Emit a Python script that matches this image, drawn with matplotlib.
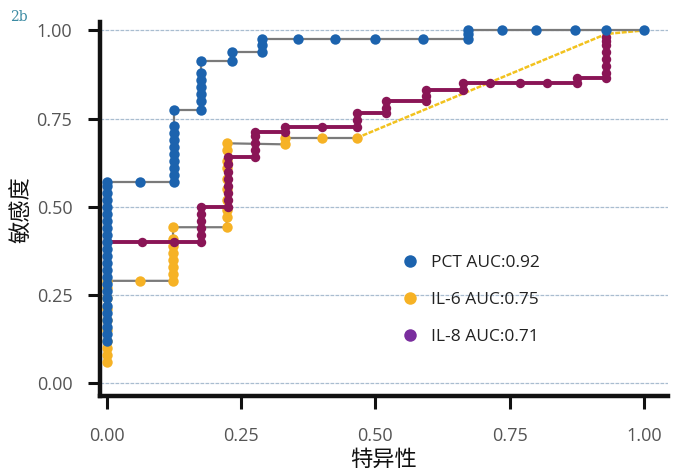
import matplotlib.pyplot as plt
from matplotlib.lines import Line2D

plt.rcParams["font.family"] = ["Open Sans", "Noto Sans CJK SC", "DejaVu Sans"]

# ROC points (1 - specificity, sensitivity)
PCT_FPR = [0.0] * 24 + [0.062, 0.125] + [0.125] * 9 + [0.175] * 7 + [0.232, 0.232, 0.288, 0.288, 0.288,
           0.356, 0.425, 0.499, 0.588, 0.672, 0.672, 0.672, 0.735, 0.80, 0.872, 0.93, 1.0]
PCT_TPR = [0.12, 0.14, 0.16, 0.18, 0.20, 0.22, 0.24, 0.26, 0.28, 0.30, 0.32, 0.34, 0.36, 0.38, 0.40,
           0.42, 0.44, 0.46, 0.48, 0.50, 0.52, 0.54, 0.56, 0.57,
           0.57, 0.57,
           0.59, 0.61, 0.63, 0.65, 0.67, 0.69, 0.71, 0.73, 0.775,
           0.775, 0.80, 0.82, 0.84, 0.86, 0.88, 0.912,
           0.912, 0.938, 0.938, 0.96, 0.977,
           0.977, 0.977, 0.977, 0.977, 0.977, 0.99, 1.0, 1.0, 1.0, 1.0, 1.0, 1.0]

IL6_FPR = [0.0] * 10 + [0.062, 0.123, 0.123, 0.123, 0.123, 0.123, 0.123, 0.123, 0.123,
           0.223, 0.223, 0.223, 0.223, 0.223, 0.223, 0.223, 0.223, 0.223, 0.223,
           0.331, 0.331, 0.40, 0.465]
IL6_TPR = [0.06, 0.08, 0.10, 0.12, 0.15, 0.18, 0.21, 0.24, 0.27, 0.29,
           0.29, 0.29, 0.31, 0.33, 0.35, 0.37, 0.39, 0.41, 0.442,
           0.442, 0.47, 0.49, 0.52, 0.55, 0.58, 0.61, 0.63, 0.66, 0.68,
           0.677, 0.695, 0.695, 0.695]
# the rest of the IL-6 curve is a single straight segment
IL6_TAIL_FPR = [0.465, 0.93, 1.0]
IL6_TAIL_TPR = [0.695, 0.99, 1.0]

IL8_FPR = [0.0, 0.065, 0.125, 0.175, 0.175, 0.175, 0.175, 0.175, 0.175,
           0.225, 0.225, 0.225, 0.225, 0.225, 0.225, 0.225, 0.225,
           0.276, 0.276, 0.276, 0.276, 0.276, 0.331, 0.331, 0.40,
           0.465, 0.465, 0.465, 0.52, 0.52, 0.52, 0.595, 0.595, 0.595, 0.663, 0.663,
           0.713, 0.77, 0.82, 0.875, 0.875, 0.93, 0.93, 0.93, 0.93, 0.93, 0.93, 0.93, 0.93]
IL8_TPR = [0.40, 0.40, 0.40, 0.40, 0.42, 0.44, 0.46, 0.48, 0.50,
           0.50, 0.52, 0.54, 0.56, 0.58, 0.60, 0.62, 0.64,
           0.64, 0.66, 0.68, 0.70, 0.711, 0.711, 0.727, 0.727,
           0.727, 0.745, 0.765, 0.765, 0.78, 0.80, 0.80, 0.815, 0.83, 0.83, 0.85,
           0.85, 0.85, 0.85, 0.85, 0.864, 0.864, 0.88, 0.90, 0.92, 0.94, 0.96, 0.97, 0.98]

LEGEND_LABELS = ["PCT AUC:0.92", "IL-6 AUC:0.75", "IL-8 AUC:0.71"]
TICKS = [0.0, 0.25, 0.5, 0.75, 1.0]

BLUE = "#1C63AE"
ORANGE = "#F6B225"
MAROON = "#8A1556"
PURPLE = "#7A2E9E"
GREY = "#7A7A7A"

fig = plt.figure(figsize=(6.76, 4.75), dpi=100)
ax = fig.add_axes([0.148, 0.166, 0.840, 0.787])

for y in TICKS:
    ax.axhline(y, color="#A9BDD0", lw=0.9, ls=(0, (3, 1)), zorder=0)

# IL-6 (drawn first, lies underneath)
ax.plot(IL6_FPR, IL6_TPR, color=GREY, lw=1.6, zorder=2)
ax.plot(IL6_TAIL_FPR, IL6_TAIL_TPR, color="#F2C21E", lw=1.8, ls=(0, (2, 0.6)), zorder=2)
ax.plot(IL6_FPR, IL6_TPR, "o", color=ORANGE, ms=7.5, mec="none", zorder=3)

# IL-8
ax.plot(IL8_FPR, IL8_TPR, color=MAROON, lw=2.8, zorder=4)
ax.plot(IL8_FPR, IL8_TPR, "o", color=MAROON, ms=6.8, mec="none", zorder=4)

# PCT
ax.plot(PCT_FPR, PCT_TPR, color=GREY, lw=1.6, zorder=5)
ax.plot(PCT_FPR, PCT_TPR, "o", color=BLUE, ms=7.5, mec="none", zorder=6)

ax.set_xlim(-0.013, 1.045)
ax.set_ylim(-0.037, 1.023)
ax.set_xticks(TICKS)
ax.set_yticks(TICKS)
ax.set_xticklabels([f"{t:.2f}" for t in TICKS])
ax.set_yticklabels([f"{t:.2f}" for t in TICKS])
ax.tick_params(axis="both", length=9, width=2.2, colors="#111111", labelcolor="#555555",
               labelsize=13)
ax.tick_params(axis="x", pad=13)
ax.tick_params(axis="y", pad=11)

for side in ("top", "right"):
    ax.spines[side].set_visible(False)
for side in ("left", "bottom"):
    ax.spines[side].set_linewidth(3.2)
    ax.spines[side].set_color("#111111")

ax.set_xlabel("特异性", fontsize=16, color="#111111", labelpad=4)
ax.set_ylabel("敏感度", fontsize=16, color="#111111", labelpad=2)

fig.text(0.015, 0.955, "2b", fontsize=10, color="#3C8BA3", family="DejaVu Serif")

handles = [Line2D([], [], ls="none", marker="o", ms=9, color=c, mec="none")
           for c in (BLUE, ORANGE, PURPLE)]
ax.legend(handles, LEGEND_LABELS, loc="center left", bbox_to_anchor=(0.53, 0.257),
          frameon=False, fontsize=12.5, labelspacing=1.2, handletextpad=0.75,
          handlelength=1.0, borderpad=0, borderaxespad=0, labelcolor="#222222")

fig.savefig("out.png", dpi=100)
